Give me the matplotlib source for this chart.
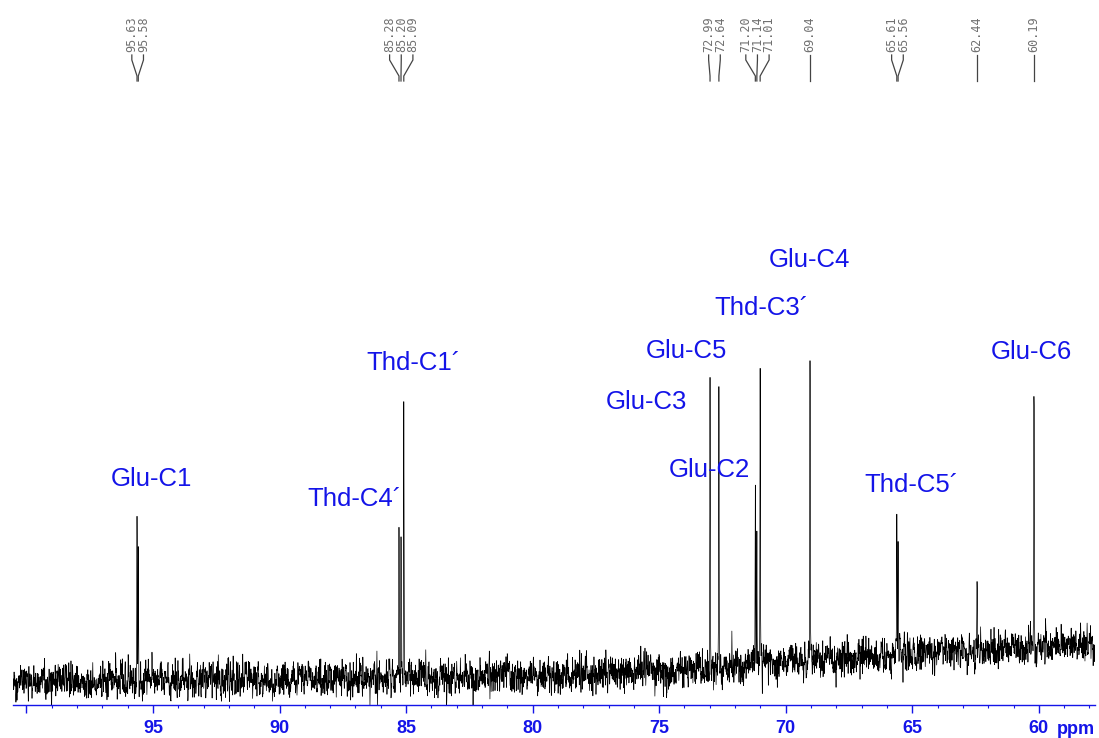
import numpy as np
import matplotlib.pyplot as plt
from matplotlib.ticker import FixedLocator, MultipleLocator, FuncFormatter

# --- Data (13C NMR, ppm) ---
peak_ppm = [95.63, 95.58, 85.28, 85.20, 85.09, 72.99, 72.64,
            71.20, 71.14, 71.01, 69.04, 65.61, 65.56, 62.44, 60.19]
# heights relative to the tallest line (69.04 = 100)
peak_height = [52, 44, 52, 46, 95, 95, 94, 60, 45, 98, 101, 39, 33, 25, 88]

# peak-picking groups shown at the top of the plot
pick_groups = [[95.63, 95.58], [85.28, 85.20, 85.09], [72.99, 72.64],
               [71.20, 71.14, 71.01], [69.04], [65.61, 65.56], [62.44], [60.19]]

# slow baseline drift (ppm, level)
baseline_ppm = [100.5, 90, 80, 75, 70, 65, 60, 57.8]
baseline_level = [1.0, 1.2, 2.2, 4.0, 6.9, 9.6, 12.2, 12.8]

# assignments
assign_text = ["Glu-C1", "Thd-C4´", "Thd-C1´", "Glu-C3", "Glu-C5",
               "Glu-C2", "Thd-C3´", "Glu-C4", "Thd-C5´", "Glu-C6"]
assign_ppm = [95.06, 87.04, 84.70, 75.49, 73.91, 73.00, 70.95, 69.05, 65.02, 60.28]
assign_level = [66.7, 60.1, 104.6, 91.8, 108.5, 69.6, 122.5, 138.2, 64.7, 108.2]

# ---------- build trace ----------
X_LEFT, X_RIGHT = 100.53, 57.78
grid = np.linspace(X_LEFT, X_RIGHT, 7000)
ppm = np.unique(np.concatenate([grid, peak_ppm]))[::-1]

width = 0.009
signal = np.zeros_like(ppm)
for p, h in zip(peak_ppm, peak_height):
    signal += h * np.exp(-0.5 * ((ppm - p) / width) ** 2)

rng = np.random.default_rng(7)
noise = rng.normal(0, 4.6, ppm.size)
noise = np.convolve(noise, [0.25, 0.5, 0.25], mode="same")
base = np.interp(ppm, baseline_ppm[::-1], baseline_level[::-1])
trace = signal + base + noise

# ---------- figure ----------
BLUE = "#1414e8"
plt.rcParams['font.family'] = ['Liberation Sans', 'DejaVu Sans']

fig = plt.figure(figsize=(10.99, 7.38), dpi=100)
H = 738.0
ax_bottom_px = 705.0
ax = fig.add_axes([13 / 1099, 1 - ax_bottom_px / H, (1095 - 13) / 1099, ax_bottom_px / H])
ax.plot(ppm, trace, color="black", lw=0.5)

ax.set_xlim(X_LEFT, X_RIGHT)
ax.set_ylim(-7.2, 223.2)

for s in ["top", "left", "right"]:
    ax.spines[s].set_visible(False)
ax.spines["bottom"].set_color(BLUE)
ax.spines["bottom"].set_linewidth(1.0)
ax.set_yticks([])

ax.xaxis.set_major_locator(FixedLocator([100, 95, 90, 85, 80, 75, 70, 65, 60]))
ax.xaxis.set_minor_locator(MultipleLocator(1))
ax.xaxis.set_major_formatter(FuncFormatter(lambda v, pos: "" if v >= 100 else f"{v:.0f}"))
ax.tick_params(axis="x", which="major", length=6, width=1.0, color=BLUE,
               labelcolor=BLUE, labelsize=13, pad=5)
ax.tick_params(axis="x", which="minor", length=2.5, width=0.8, color=BLUE)
for lbl in ax.get_xticklabels():
    lbl.set_fontweight("bold")
ax.text(0.9995, -0.022, "ppm", transform=ax.transAxes, ha="right", va="top",
        color=BLUE, fontsize=13, fontweight="bold")

# assignments
for t, x, y in zip(assign_text, assign_ppm, assign_level):
    ax.text(x, y, t, color=BLUE, fontsize=18.5, ha="center", va="center")

# peak picking labels and connectors
trans = ax.get_xaxis_transform()
def frac(px):
    return (ax_bottom_px - px) / ax_bottom_px

spacing = 0.46
for grp in pick_groups:
    center = np.mean(grp)
    n = len(grp)
    for i, p in enumerate(grp):
        lx = center + ((n - 1) / 2 - i) * spacing
        ax.plot([lx, lx, p, p], [frac(55), frac(60), frac(76), frac(81)],
                color="#444444", lw=0.9, transform=trans, clip_on=False)
        ax.text(lx, frac(52), f"{p:.2f}", rotation=90, ha="center", va="bottom",
                transform=trans, color="#707070", fontsize=8.5,
                family="DejaVu Sans Mono")

fig.savefig("out.png", dpi=100)
